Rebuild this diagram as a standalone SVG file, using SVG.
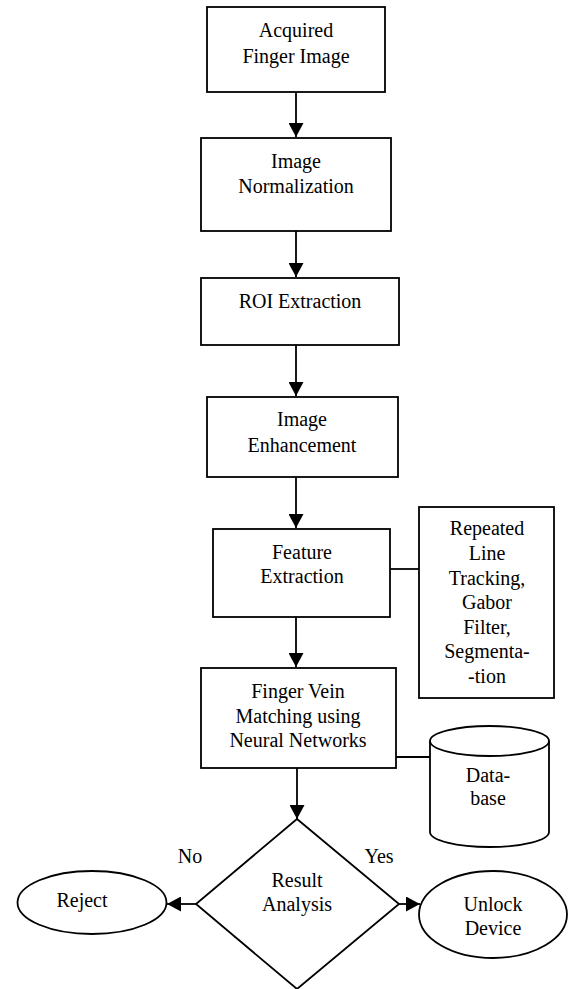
<svg xmlns="http://www.w3.org/2000/svg" width="576" height="989" viewBox="0 0 576 989" font-family="Liberation Serif, Tinos, Times New Roman, DejaVu Serif, serif">
<style>
.s{fill:#fff;stroke:#000;stroke-width:1.8}
.t{font-size:20px;fill:#000;text-anchor:middle}
.c{stroke:#000;stroke-width:1.8;fill:none}
.a{marker-end:url(#ah)}
</style>
<defs>
<marker id="ah" markerUnits="userSpaceOnUse" markerWidth="14" markerHeight="15" refX="14" refY="7.5" orient="auto">
<path d="M0,0 L14,7.5 L0,15 z" fill="#000"/>
</marker>
</defs>
<rect width="576" height="989" fill="#fff"/>
<g id="n1"><rect class="s" x="207" y="7" width="178" height="85"/>
<text class="t" x="296" y="37">Acquired</text><text class="t" x="296" y="63">Finger Image</text></g>
<g id="n2"><rect class="s" x="201" y="138" width="190" height="93"/>
<text class="t" x="296" y="168">Image</text><text class="t" x="296" y="193">Normalization</text></g>
<g id="n3"><rect class="s" x="201" y="278" width="198" height="67"/>
<text class="t" x="300" y="308">ROI Extraction</text></g>
<g id="n4"><rect class="s" x="207" y="397" width="191" height="80"/>
<text class="t" x="302" y="426">Image</text><text class="t" x="302" y="452">Enhancement</text></g>
<g id="n5"><rect class="s" x="213" y="529" width="177" height="88"/>
<text class="t" x="302" y="559">Feature</text><text class="t" x="302" y="583">Extraction</text></g>
<g id="n6"><rect class="s" x="419" y="507" width="135" height="191"/>
<text class="t" x="487" y="535">Repeated</text><text class="t" x="487" y="560">Line</text><text class="t" x="487" y="585">Tracking,</text><text class="t" x="487" y="609">Gabor</text><text class="t" x="487" y="634">Filter,</text><text class="t" x="487" y="658">Segmenta-</text><text class="t" x="487" y="683">-tion</text></g>
<g id="n7"><rect class="s" x="201" y="668" width="195" height="100"/>
<text class="t" x="298" y="698">Finger Vein</text><text class="t" x="298" y="723">Matching using</text><text class="t" x="298" y="747">Neural Networks</text></g>
<g id="n8"><path class="s" d="M430,741 L430,832 A59.5,15 0 0 0 549,832 L549,741 A59.5,15 0 0 0 430,741 Z"/>
<path class="c" d="M430,741 A59.5,15 0 0 0 549,741"/>
<text class="t" x="488" y="782">Data-</text><text class="t" x="488" y="805">base</text></g>
<g id="n9"><polygon class="s" points="297,819 399,904 297,989 196,904"/>
<text class="t" x="297" y="887">Result</text><text class="t" x="297" y="911">Analysis</text></g>
<g id="n10"><ellipse class="s" cx="92" cy="902.5" rx="74.5" ry="31.5"/>
<text class="t" x="82" y="907">Reject</text></g>
<g id="n11"><ellipse class="s" cx="493" cy="914.5" rx="74" ry="43.5"/>
<text class="t" x="493" y="911">Unlock</text><text class="t" x="493" y="935">Device</text></g>
<g id="connectors">
<line class="c a" x1="296" y1="92" x2="296" y2="137"/>
<line class="c a" x1="296" y1="231" x2="296" y2="277"/>
<line class="c a" x1="296" y1="345" x2="296" y2="396"/>
<line class="c a" x1="296" y1="477" x2="296" y2="528"/>
<line class="c a" x1="296" y1="617" x2="296" y2="667"/>
<line class="c a" x1="297" y1="768" x2="297" y2="819"/>
<line class="c a" x1="196" y1="904" x2="167" y2="904"/>
<line class="c a" x1="399" y1="904" x2="420" y2="904"/>
<line class="c" x1="390" y1="569" x2="419" y2="569"/>
<line class="c" x1="396" y1="757" x2="430" y2="757"/>
<text class="t" x="190" y="863">No</text>
<text class="t" x="379" y="863">Yes</text>
</g>
</svg>
